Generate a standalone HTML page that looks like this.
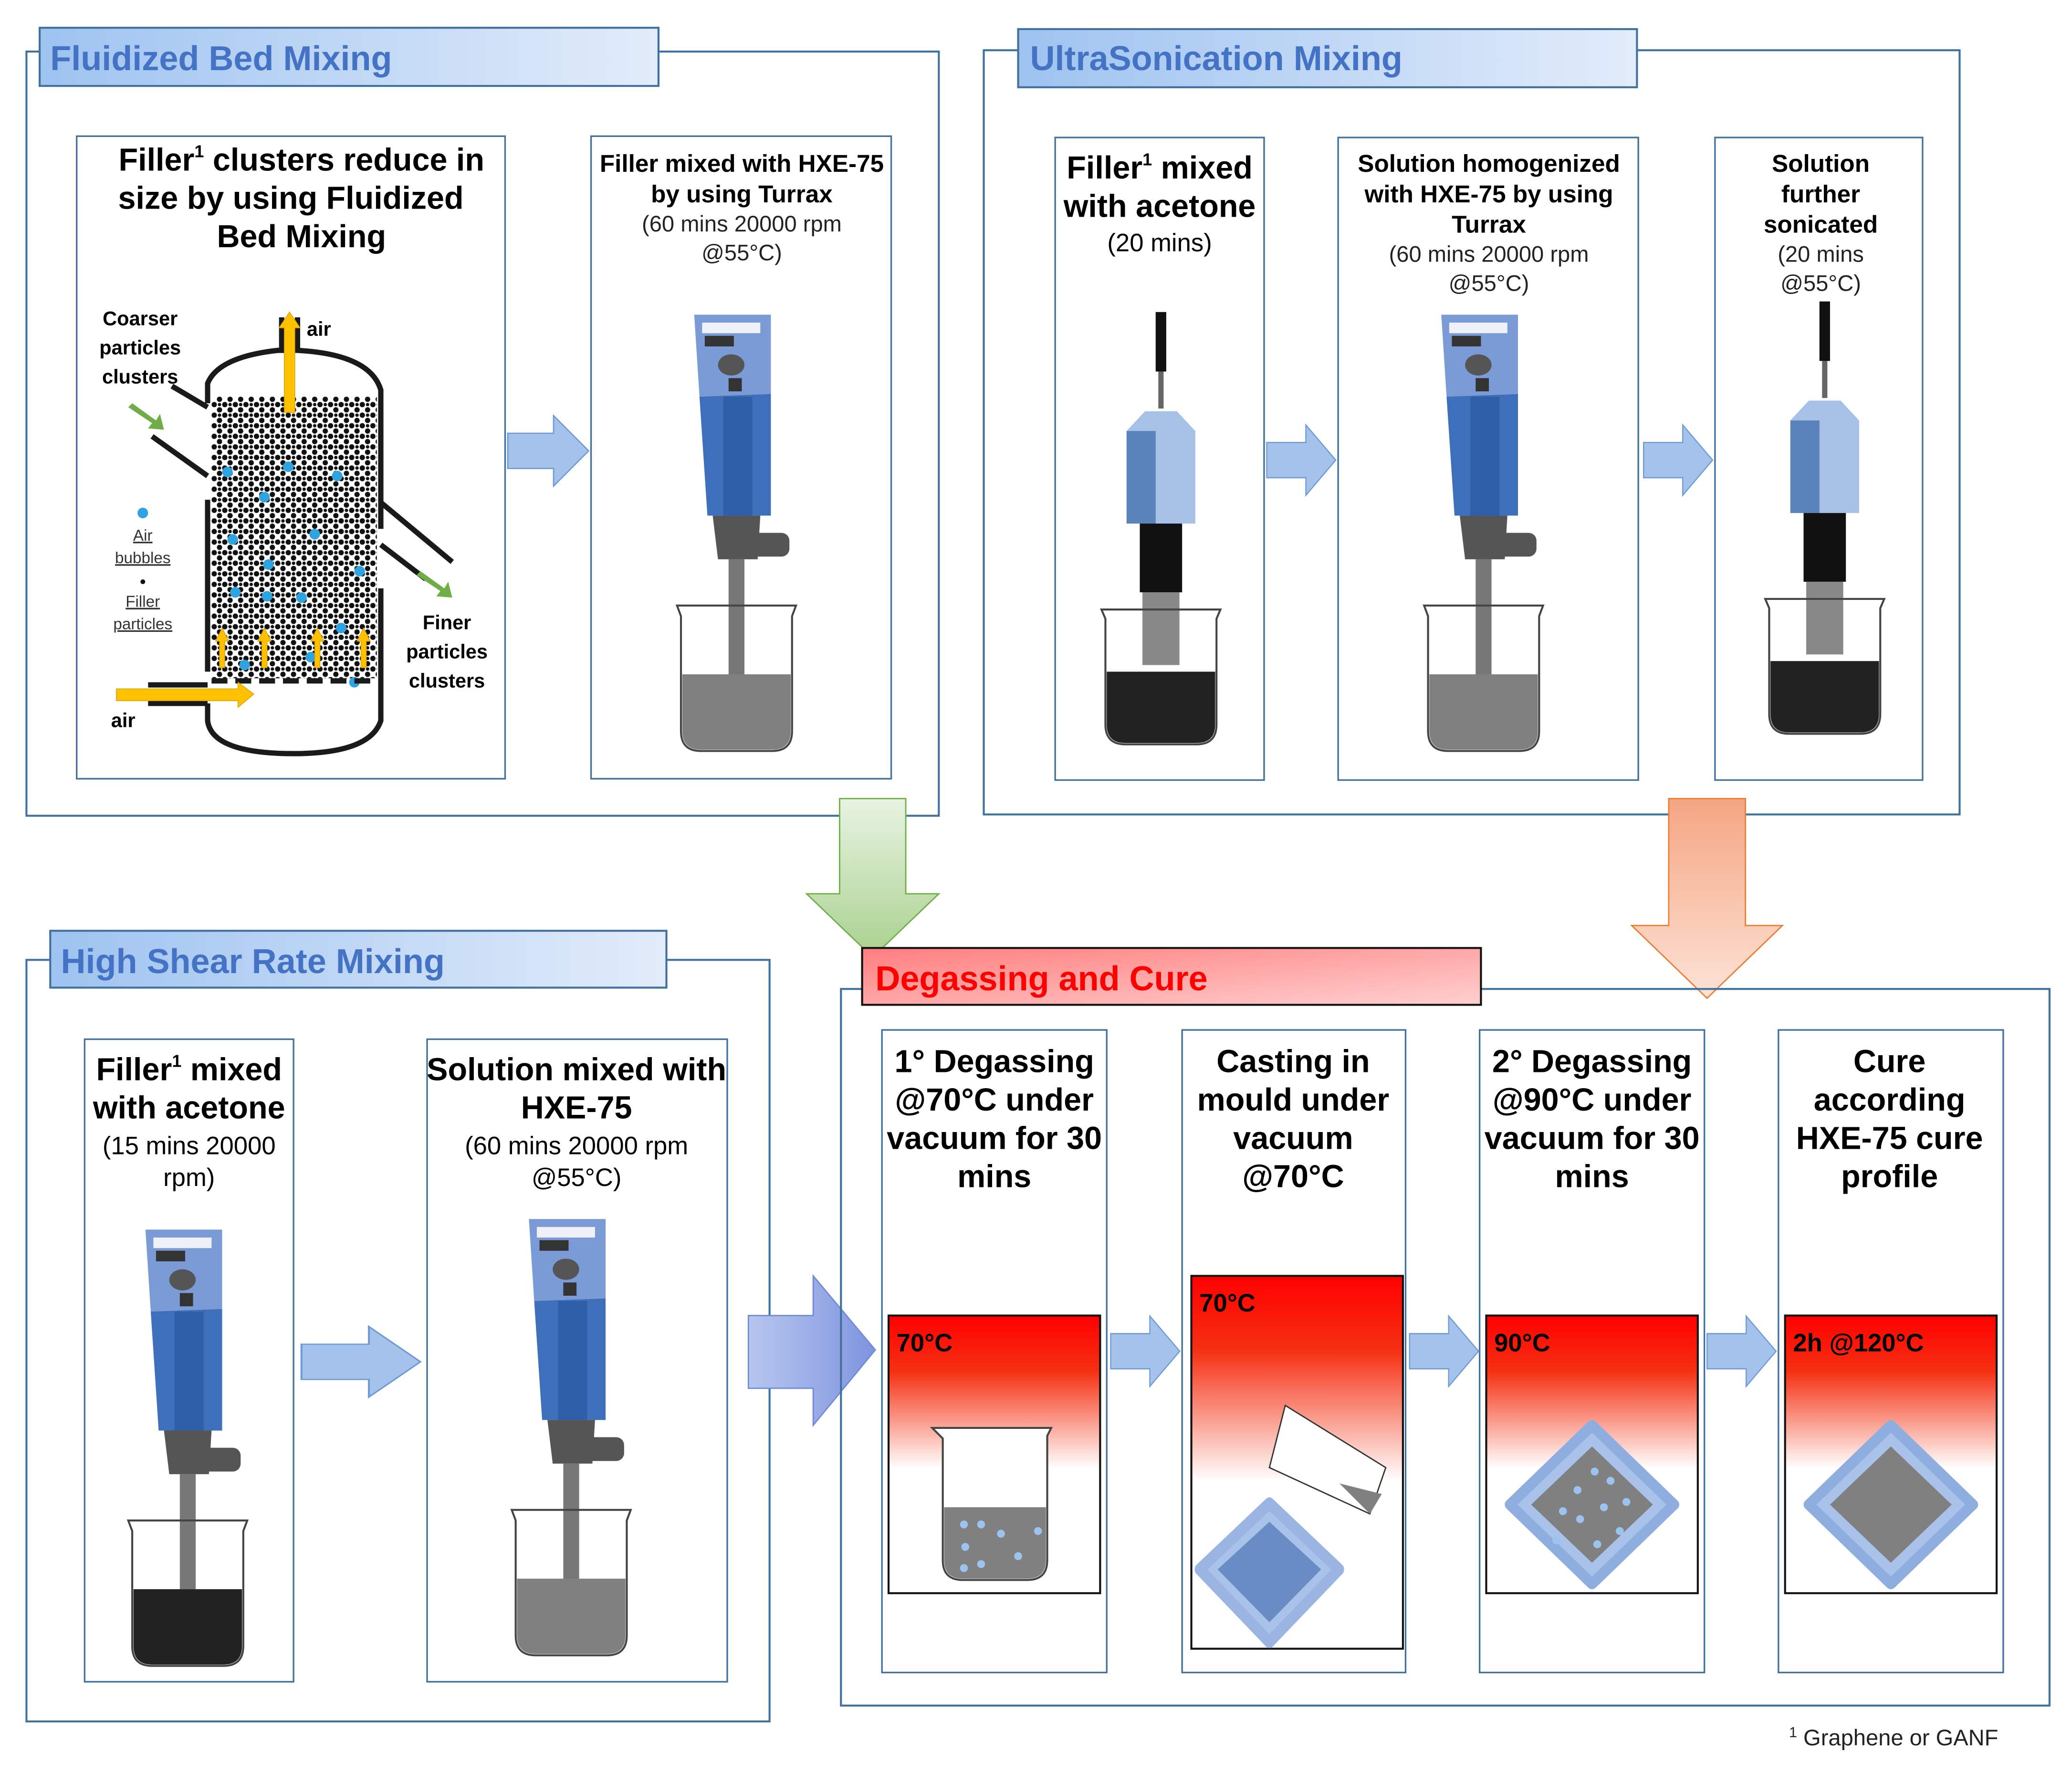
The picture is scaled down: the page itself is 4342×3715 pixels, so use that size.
<!DOCTYPE html>
<html><head><meta charset="utf-8"><style>html,body{margin:0;padding:0;background:#fff}svg{display:block}</style></head>
<body>
<svg width="4342" height="3715" viewBox="0 0 1567 1341" preserveAspectRatio="none" xmlns="http://www.w3.org/2000/svg" font-family="Liberation Sans, sans-serif">
<defs>
<linearGradient id="tb" x1="0" x2="1" y1="0" y2="0"><stop offset="0" stop-color="#9ec3f0"/><stop offset="1" stop-color="#e2ecfa"/></linearGradient>
<linearGradient id="tr" x1="0" x2="1" y1="0" y2="1"><stop offset="0" stop-color="#ff7e7e"/><stop offset="1" stop-color="#ffd0d0"/></linearGradient>
<linearGradient id="hot" x1="0" x2="0" y1="0" y2="1"><stop offset="0" stop-color="#ff0000"/><stop offset="0.2" stop-color="#f53012"/><stop offset="0.55" stop-color="#fff"/><stop offset="1" stop-color="#fff"/></linearGradient>
<linearGradient id="ga" x1="0" x2="0" y1="0" y2="1"><stop offset="0" stop-color="#e8f3e2"/><stop offset="1" stop-color="#a9d18e"/></linearGradient>
<linearGradient id="oa" x1="0" x2="0" y1="0" y2="1"><stop offset="0" stop-color="#f4a582"/><stop offset="1" stop-color="#fde3d6"/></linearGradient>
<linearGradient id="ba" x1="0" x2="1" y1="0" y2="0"><stop offset="0" stop-color="#b7c6ee"/><stop offset="1" stop-color="#7f94e0"/></linearGradient>
<pattern id="dots" width="8" height="8" patternUnits="userSpaceOnUse"><rect width="8" height="8" fill="#fff"/><circle cx="2" cy="2" r="2" fill="#111"/><circle cx="6" cy="6" r="2" fill="#111"/><circle cx="6" cy="2" r="1.3" fill="#111"/></pattern>
<g id="mix">
 <path d="M-32 0 L26 0 L26 60 L-28 62 Z" fill="#7b9bd6"/>
 <rect x="-26" y="6" width="44" height="8" fill="#eef2f8"/>
 <rect x="-24" y="16" width="22" height="8" fill="#333"/>
 <ellipse cx="-4" cy="38" rx="10" ry="8" fill="#555"/>
 <rect x="-6" y="48" width="10" height="10" fill="#333"/>
 <path d="M-28 62 L26 60 L26 152 L-22 152 Z" fill="#3d6fba"/>
 <rect x="-10" y="62" width="22" height="90" fill="#2f5fa8"/>
 <path d="M-18 152 L18 152 L16 185 L-14 185 Z" fill="#555"/>
 <rect x="10" y="165" width="30" height="18" rx="6" fill="#555"/>
 <rect x="-6" y="185" width="12" height="120" fill="#777"/>
 <path d="M-45 220 L45 220 L42 228 L42 315 Q42 330 27 330 L-27 330 Q-42 330 -42 315 L-42 228 Z" fill="none" stroke="#444" stroke-width="1.5"/>
 <path d="M-41 272 L41 272 L41 315 Q41 329 27 329 L-27 329 Q-41 329 -41 315 Z" fill="#808080"/>
</g>
<g id="mixB">
 <use href="#mix"/>
 <path d="M-41 272 L41 272 L41 315 Q41 329 27 329 L-27 329 Q-41 329 -41 315 Z" fill="#222"/>
</g>
<g id="son">
 <rect x="-4" y="0" width="8" height="45" fill="#111"/>
 <rect x="-2" y="45" width="4" height="28" fill="#666"/>
 <path d="M-26 90 L-12 75 L12 75 L26 90 L26 160 L-26 160 Z" fill="#a7c0e6"/>
 <rect x="-26" y="90" width="22" height="70" fill="#5b83bb"/>
 <rect x="-16" y="160" width="32" height="52" fill="#111"/>
 <rect x="-14" y="212" width="28" height="55" fill="#888"/>
 <path d="M-45 225 L45 225 L42 232 L42 312 Q42 327 27 327 L-27 327 Q-42 327 -42 312 L-42 232 Z" fill="none" stroke="#444" stroke-width="1.5"/>
 <path d="M-41 272 L41 272 L41 312 Q41 326 27 326 L-27 326 Q-41 326 -41 312 Z" fill="#222"/>
</g>
<g id="rarr"><path d="M0 -14 L34 -14 L34 -28 L60 0 L34 28 L34 14 L0 14 Z" fill="#a4c2ea" stroke="#6f9bd6" stroke-width="1"/></g>
<g id="mould"><path d="M0 -60 L62 0 L0 60 L-62 0 Z" fill="#a9c2ea" stroke="#8eaee0" stroke-width="8" stroke-linejoin="round"/><path d="M0 -44 L46 0 L0 44 L-46 0 Z" fill="#808080"/></g>
</defs>

<!-- Fluidized -->
<rect x="20" y="39" width="690" height="578" fill="none" stroke="#41719c" stroke-width="1.5"/>
<rect x="30" y="21" width="468" height="44" fill="url(#tb)" stroke="#41719c" stroke-width="1.5"/>
<text x="38" y="53" font-size="26" font-weight="bold" fill="#4472c4">Fluidized Bed Mixing</text>
<rect x="58" y="103" width="324" height="486" fill="#fff" stroke="#41719c" stroke-width="1.2"/>
<text font-size="24" font-weight="bold" text-anchor="middle"><tspan x="228" y="129">Filler<tspan font-size="13" dy="-10">1</tspan><tspan dy="10"> clusters reduce in</tspan></tspan><tspan x="220" y="158">size by using Fluidized</tspan><tspan x="228" y="187">Bed Mixing</tspan></text>
<text font-size="15" font-weight="bold" text-anchor="middle"><tspan x="106" y="246">Coarser</tspan><tspan x="106" y="268">particles</tspan><tspan x="106" y="290">clusters</tspan></text>
<text x="232" y="254" font-size="15" font-weight="bold">air</text>
<text font-size="15" font-weight="bold" text-anchor="middle"><tspan x="338" y="476">Finer</tspan><tspan x="338" y="498">particles</tspan><tspan x="338" y="520">clusters</tspan></text>
<text x="84" y="550" font-size="15" font-weight="bold">air</text>
<circle cx="108" cy="388" r="4" fill="#2ea3df"/>
<text font-size="12" text-anchor="middle" fill="#333" text-decoration="underline"><tspan x="108" y="409">Air</tspan><tspan x="108" y="426">bubbles</tspan><tspan x="108" y="459">Filler</tspan><tspan x="108" y="476">particles</tspan></text>
<circle cx="108" cy="440" r="1.8" fill="#111"/>
<rect x="160" y="300" width="125" height="213" fill="url(#dots)"/>
<g fill="#2ea3df"><circle cx="172" cy="357" r="4"/><circle cx="218" cy="353" r="4"/><circle cx="255" cy="360" r="4"/><circle cx="200" cy="376" r="4"/><circle cx="176" cy="408" r="4"/><circle cx="238" cy="404" r="4"/><circle cx="203" cy="427" r="4"/><circle cx="272" cy="432" r="4"/><circle cx="178" cy="448" r="4"/><circle cx="228" cy="452" r="4"/><circle cx="202" cy="451" r="4"/><circle cx="258" cy="475" r="4"/><circle cx="185" cy="503" r="4"/><circle cx="235" cy="497" r="4"/><circle cx="268" cy="516" r="4"/></g>
<g fill="none" stroke="#1a1a1a" stroke-width="4">
<path d="M157 305 L157 290 Q165 270 210 265 L213 265 L213 240"/>
<path d="M225 240 L225 265 Q280 268 288 295 L288 400"/>
<path d="M288 445 L288 545 Q280 570 222 570 Q160 570 157 545 L157 532"/>
<path d="M157 508 L157 378"/>
<path d="M157 360 L115 330"/><path d="M157 308 L130 292"/>
<path d="M288 380 L342 425"/><path d="M288 412 L322 438"/>
<path d="M112 518 L157 518"/><path d="M112 532 L157 532"/>
<path d="M160 515 L288 515" stroke-dasharray="12,6"/>
</g>
<g fill="#ffc000" stroke="#d8a000" stroke-width="0.5">
<path d="M215 312 L215 248 L211 248 L219 236 L227 248 L223 248 L223 312 Z"/>
<path d="M88 521 L88 530 L180 530 L180 535 L192 525 L180 516 L180 521 Z"/>
<path d="M166 505 L166 485 L163 485 L168 475 L173 485 L170 485 L170 505 Z"/>
<path d="M198 505 L198 485 L195 485 L200 475 L205 485 L202 485 L202 505 Z"/>
<path d="M238 505 L238 485 L235 485 L240 475 L245 485 L242 485 L242 505 Z"/>
<path d="M273 505 L273 485 L270 485 L275 475 L280 485 L277 485 L277 505 Z"/>
</g>
<path d="M100 305 L118 318 L121 313 L124 325 L112 324 L115 320 L97 308 Z" fill="#70ad47"/>
<path d="M318 432 L336 445 L339 440 L342 452 L330 451 L333 447 L315 435 Z" fill="#70ad47"/>
<use href="#rarr" x="384" y="341" transform="translate(384 341) scale(1.02 0.95) translate(-384 -341)"/>
<rect x="447" y="103" width="227" height="486" fill="#fff" stroke="#41719c" stroke-width="1.2"/>
<text font-size="18.5" font-weight="bold" text-anchor="middle"><tspan x="561" y="130">Filler mixed with HXE-75</tspan><tspan x="561" y="153">by using Turrax</tspan></text>
<text font-size="17" text-anchor="middle" fill="#222"><tspan x="561" y="175">(60 mins 20000 rpm</tspan><tspan x="561" y="197">@55°C)</tspan></text>
<use href="#mix" x="557" y="238"/>

<!-- Ultrasonication -->
<rect x="744" y="38" width="738" height="578" fill="none" stroke="#41719c" stroke-width="1.5"/>
<rect x="770" y="22" width="468" height="44" fill="url(#tb)" stroke="#41719c" stroke-width="1.5"/>
<text x="779" y="53" font-size="26" font-weight="bold" fill="#4472c4">UltraSonication Mixing</text>
<rect x="798" y="104" width="158" height="486" fill="#fff" stroke="#41719c" stroke-width="1.2"/>
<text font-size="24" font-weight="bold" text-anchor="middle"><tspan x="877" y="135">Filler<tspan font-size="13" dy="-10">1</tspan><tspan dy="10"> mixed</tspan></tspan><tspan x="877" y="164">with acetone</tspan></text>
<text x="877" y="190" font-size="19" text-anchor="middle">(20 mins)</text>
<use href="#son" x="878" y="236"/>
<use href="#rarr" x="958" y="348" transform="translate(958 348) scale(0.87 0.95) translate(-958 -348)"/>
<rect x="1012" y="104" width="227" height="486" fill="#fff" stroke="#41719c" stroke-width="1.2"/>
<text font-size="18.5" font-weight="bold" text-anchor="middle"><tspan x="1126" y="130">Solution homogenized</tspan><tspan x="1126" y="153">with HXE-75 by using</tspan><tspan x="1126" y="176">Turrax</tspan></text>
<text font-size="17" text-anchor="middle" fill="#222"><tspan x="1126" y="198">(60 mins 20000 rpm</tspan><tspan x="1126" y="220">@55°C)</tspan></text>
<use href="#mix" x="1122" y="238"/>
<use href="#rarr" x="1243" y="348" transform="translate(1243 348) scale(0.87 0.95) translate(-1243 -348)"/>
<rect x="1297" y="104" width="157" height="486" fill="#fff" stroke="#41719c" stroke-width="1.2"/>
<text font-size="18.5" font-weight="bold" text-anchor="middle"><tspan x="1377" y="130">Solution</tspan><tspan x="1377" y="153">further</tspan><tspan x="1377" y="176">sonicated</tspan></text>
<text font-size="17" text-anchor="middle" fill="#222"><tspan x="1377" y="198">(20 mins</tspan><tspan x="1377" y="220">@55°C)</tspan></text>
<use href="#son" x="1380" y="228"/>

<!-- big arrows -->
<path d="M635 604 L685 604 L685 676 L710 676 L660 724 L610 676 L635 676 Z" fill="url(#ga)" stroke="#70ad47" stroke-width="1"/>
<path d="M1262 604 L1320 604 L1320 700 L1348 700 L1291 755 L1234 700 L1262 700 Z" fill="url(#oa)" stroke="#ed7d31" stroke-width="1"/>

<!-- High shear -->
<rect x="20" y="726" width="562" height="576" fill="none" stroke="#41719c" stroke-width="1.5"/>
<rect x="38" y="704" width="466" height="43" fill="url(#tb)" stroke="#41719c" stroke-width="1.5"/>
<text x="46" y="736" font-size="26" font-weight="bold" fill="#4472c4">High Shear Rate Mixing</text>
<rect x="64" y="786" width="158" height="486" fill="#fff" stroke="#41719c" stroke-width="1.2"/>
<text font-size="24" font-weight="bold" text-anchor="middle"><tspan x="143" y="817">Filler<tspan font-size="13" dy="-10">1</tspan><tspan dy="10"> mixed</tspan></tspan><tspan x="143" y="846">with acetone</tspan></text>
<text font-size="19" text-anchor="middle"><tspan x="143" y="873">(15 mins 20000</tspan><tspan x="143" y="897">rpm)</tspan></text>
<use href="#mixB" x="142" y="930"/>
<use href="#rarr" x="228" y="1030" transform="translate(228 1030) scale(1.5 0.95) translate(-228 -1030)"/>
<rect x="323" y="786" width="227" height="486" fill="#fff" stroke="#41719c" stroke-width="1.2"/>
<text font-size="24" font-weight="bold" text-anchor="middle"><tspan x="436" y="817">Solution mixed with</tspan><tspan x="436" y="846">HXE-75</tspan></text>
<text font-size="19" text-anchor="middle"><tspan x="436" y="873">(60 mins 20000 rpm</tspan><tspan x="436" y="897">@55°C)</tspan></text>
<use href="#mix" x="432" y="922"/>
<path d="M566 995 L615 995 L615 965 L662 1021 L615 1078 L615 1050 L566 1050 Z" fill="url(#ba)" stroke="#6f8bd6" stroke-width="1"/>

<!-- Degassing -->
<rect x="636" y="748" width="914" height="542" fill="none" stroke="#41719c" stroke-width="1.5"/>
<rect x="652" y="717" width="468" height="43" fill="url(#tr)" stroke="#111" stroke-width="1.5"/>
<text x="662" y="749" font-size="26" font-weight="bold" fill="#ff0000">Degassing and Cure</text>
<g font-size="24" font-weight="bold" text-anchor="middle">
<rect x="667" y="779" width="170" height="486" fill="#fff" stroke="#41719c" stroke-width="1.2"/>
<text><tspan x="752" y="811">1° Degassing</tspan><tspan x="752" y="840">@70°C under</tspan><tspan x="752" y="869">vacuum for 30</tspan><tspan x="752" y="898">mins</tspan></text>
<rect x="894" y="779" width="169" height="486" fill="#fff" stroke="#41719c" stroke-width="1.2"/>
<text><tspan x="978" y="811">Casting in</tspan><tspan x="978" y="840">mould under</tspan><tspan x="978" y="869">vacuum</tspan><tspan x="978" y="898">@70°C</tspan></text>
<rect x="1119" y="779" width="170" height="486" fill="#fff" stroke="#41719c" stroke-width="1.2"/>
<text><tspan x="1204" y="811">2° Degassing</tspan><tspan x="1204" y="840">@90°C under</tspan><tspan x="1204" y="869">vacuum for 30</tspan><tspan x="1204" y="898">mins</tspan></text>
<rect x="1345" y="779" width="170" height="486" fill="#fff" stroke="#41719c" stroke-width="1.2"/>
<text><tspan x="1429" y="811">Cure</tspan><tspan x="1429" y="840">according</tspan><tspan x="1429" y="869">HXE-75 cure</tspan><tspan x="1429" y="898">profile</tspan></text>
</g>
<rect x="672" y="995" width="160" height="210" fill="url(#hot)" stroke="#111" stroke-width="1.5"/>
<rect x="901" y="965" width="160" height="282" fill="url(#hot)" stroke="#111" stroke-width="1.5"/>
<rect x="1124" y="995" width="160" height="210" fill="url(#hot)" stroke="#111" stroke-width="1.5"/>
<rect x="1350" y="995" width="160" height="210" fill="url(#hot)" stroke="#111" stroke-width="1.5"/>
<g font-size="19" font-weight="bold"><text x="678" y="1022">70°C</text><text x="907" y="992">70°C</text><text x="1130" y="1022">90°C</text><text x="1356" y="1022">2h @120°C</text></g>
<!-- beaker -->
<path d="M705 1080 L795 1080 L792 1086 L792 1180 Q792 1195 777 1195 L728 1195 Q713 1195 713 1180 L713 1088 Z" fill="#fff" stroke="#444" stroke-width="1.5"/>
<path d="M714 1140 L791 1140 L791 1180 Q791 1194 777 1194 L728 1194 Q714 1194 714 1180 Z" fill="#808080"/>
<g fill="#9cc3ee"><circle cx="729" cy="1153" r="3"/><circle cx="742" cy="1153" r="3"/><circle cx="757" cy="1160" r="3"/><circle cx="785" cy="1158" r="3"/><circle cx="730" cy="1170" r="3"/><circle cx="770" cy="1177" r="3"/><circle cx="742" cy="1183" r="3"/><circle cx="729" cy="1186" r="3"/></g>
<!-- pouring -->
<path d="M972 1063 L1048 1110 L1036 1145 L960 1110 Z" fill="#fff" stroke="#333" stroke-width="1"/>
<path d="M1013 1122 L1045 1130 L1036 1145 Z" fill="#808080"/>
<g transform="translate(960 1187) scale(0.85 1)"><path d="M0 -50 L62 0 L0 55 L-62 0 Z" fill="#a9c2ea" stroke="#9ab5e2" stroke-width="9" stroke-linejoin="round"/><path d="M0 -36 L46 0 L0 40 L-46 0 Z" fill="#6a8cc4"/></g>
<use href="#mould" x="1204" y="1138"/>
<g fill="#9cc3ee"><circle cx="1206" cy="1113" r="3"/><circle cx="1218" cy="1120" r="3"/><circle cx="1193" cy="1127" r="3"/><circle cx="1230" cy="1136" r="3"/><circle cx="1213" cy="1140" r="3"/><circle cx="1182" cy="1143" r="3"/><circle cx="1195" cy="1149" r="3"/><circle cx="1225" cy="1158" r="3"/><circle cx="1208" cy="1168" r="3"/><circle cx="1177" cy="1165" r="3"/></g>
<use href="#mould" x="1430" y="1138"/>
<use href="#rarr" x="840" y="1022" transform="translate(840 1022) scale(0.87 0.95) translate(-840 -1022)"/>
<use href="#rarr" x="1066" y="1022" transform="translate(1066 1022) scale(0.87 0.95) translate(-1066 -1022)"/>
<use href="#rarr" x="1291" y="1022" transform="translate(1291 1022) scale(0.87 0.95) translate(-1291 -1022)"/>
<text x="1353" y="1320" font-size="17" fill="#222"><tspan font-size="11" dy="-6">1</tspan><tspan dy="6"> Graphene or GANF</tspan></text>
</svg>
</body></html>
